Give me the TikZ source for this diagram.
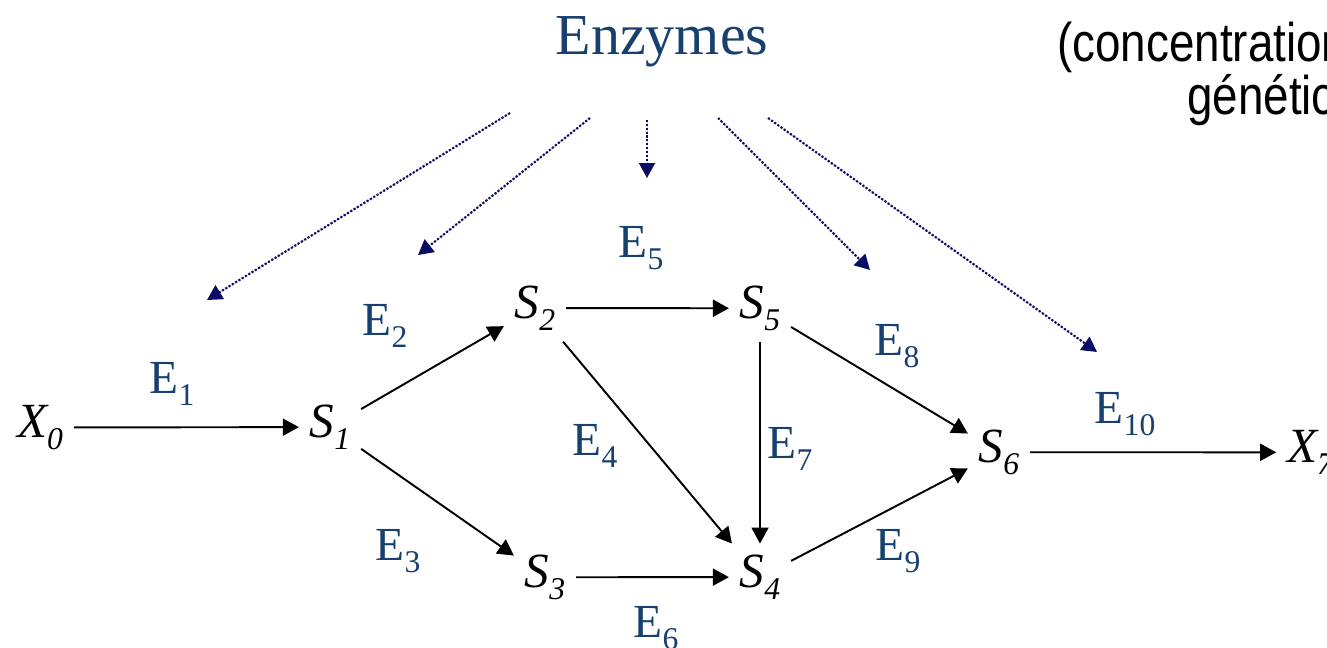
\documentclass[tikz,border=0pt]{standalone}
\usepackage{fontspec}
\setmainfont{Liberation Serif}
\newfontfamily\narrowsans[FakeStretch=0.84]{Liberation Sans}
\usepackage{xcolor}
\usetikzlibrary{arrows.meta}
\definecolor{enzblue}{HTML}{17406E}
\definecolor{dotnavy}{HTML}{0B0B63}
\newcommand{\lowsub}[1]{\raisebox{-0.26em}{\fontsize{18}{20}\selectfont #1}}

\begin{document}
\begin{tikzpicture}[x=0.02cm,y=0.02cm,
  species/.style={inner sep=6pt,anchor=base,font=\fontsize{28}{34}\selectfont\itshape},
  enz/.style={text=enzblue,inner sep=0pt,anchor=base,font=\fontsize{27}{32}\selectfont},
  note/.style={inner sep=0pt,anchor=base west,font=\fontsize{31}{36}\narrowsans},
  rxn/.style={-{Triangle[length=3.2mm,width=3.4mm]},line width=1.1pt},
  ctrl/.style={-{Triangle[length=3mm,width=3.2mm]},densely dotted,line width=1.2pt,draw=dotnavy,fill=dotnavy}
]
\useasboundingbox (0,0) rectangle (1327,-648);
% title and side note
\node[text=enzblue,inner sep=0pt,anchor=base,font=\fontsize{33}{40}\selectfont] (enzymes) at (662,-55) {Enzymes};
\node[note] (conc) at (1057,-62) {(concentration};
\node[note] (gen) at (1187,-115) {génétic};
% metabolites
\node[species] (X0) at (40,-437) {X\lowsub{0}};
\node[species] (S1) at (330,-437) {S\lowsub{1}};
\node[species] (S2) at (535,-318) {S\lowsub{2}};
\node[species] (S5) at (760,-318) {S\lowsub{5}};
\node[species] (S3) at (545,-587) {S\lowsub{3}};
\node[species] (S4) at (760,-587) {S\lowsub{4}};
\node[species] (S6) at (999,-462) {S\lowsub{6}};
\node[species] (X7) at (1310,-462) {X\lowsub{7}};
% enzyme labels
\node[enz] (E1) at (172,-393) {E\lowsub{1}};
\node[enz] (E2) at (385,-335) {E\lowsub{2}};
\node[enz] (E3) at (398,-560) {E\lowsub{3}};
\node[enz] (E4) at (595,-455) {E\lowsub{4}};
\node[enz] (E5) at (641,-257) {E\lowsub{5}};
\node[enz] (E6) at (656,-637) {E\lowsub{6}};
\node[enz] (E7) at (790,-458) {E\lowsub{7}};
\node[enz] (E8) at (897,-355) {E\lowsub{8}};
\node[enz] (E9) at (898,-560) {E\lowsub{9}};
\node[enz] (E10) at (1125,-423) {E\lowsub{10}};
% reactions
\draw[rxn] (X0) -- (S1);
\draw[rxn] (S1) -- (S2);
\draw[rxn] (S1) -- (S3);
\draw[rxn] (S2) -- (S5);
\draw[rxn] (S2) -- (S4);
\draw[rxn] (S5) -- (S4);
\draw[rxn] (S3) -- (S4);
\draw[rxn] (S5) -- (S6);
\draw[rxn] (S4) -- (S6);
\draw[rxn] (S6) -- (X7);
% enzyme control
\coordinate (c1s) at (510,-113); \coordinate (c1e) at (207,-300);
\coordinate (c2s) at (590,-118); \coordinate (c2e) at (418,-255);
\coordinate (c3s) at (647,-120); \coordinate (c3e) at (647,-178);
\coordinate (c4s) at (718,-118); \coordinate (c4e) at (870,-270);
\coordinate (c5s) at (768,-118); \coordinate (c5e) at (1097,-352);
\draw[ctrl] (c1s) -- (c1e);
\draw[ctrl] (c2s) -- (c2e);
\draw[ctrl] (c3s) -- (c3e);
\draw[ctrl] (c4s) -- (c4e);
\draw[ctrl] (c5s) -- (c5e);
\end{tikzpicture}
\end{document}
